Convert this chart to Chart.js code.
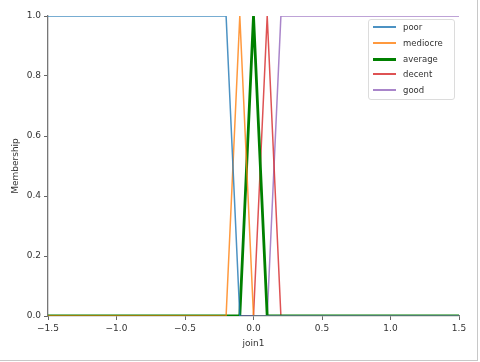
<!DOCTYPE html>
<html>
<head>
<meta charset="utf-8">
<script src="https://cdn.jsdelivr.net/npm/chart.js@4"></script>
<style>
  html, body { margin: 0; padding: 0; background: #fff; }
  #wrap { position: relative; width: 480px; height: 362px; }
  #frame { position: absolute; left: 0; top: 0; width: 477px; height: 360px;
           border-right: 1px solid #c8c8c8; border-bottom: 1px solid #c8c8c8; pointer-events: none; }
  #legend { position: absolute; left: 368px; top: 19px; width: 85px; height: 79px;
            border: 1px solid #dcdcdc; border-radius: 3px; background: rgba(255,255,255,0.8);
            font-family: "DejaVu Sans", sans-serif; font-size: 8.5px; color: #333; }
  .row { position: absolute; left: 0; height: 12px; line-height: 12px; }
  .row i { position: absolute; left: 4px; width: 23px; display: block; }
  .row span { position: absolute; left: 34px; top: 0; white-space: nowrap; }
</style>
</head>
<body>
<div id="wrap">
  <canvas id="chart" width="480" height="362"></canvas>
  <div id="frame"></div>
  <div id="legend"></div>
</div>
<script>
// ===== DATA =====
const names = ["poor", "mediocre", "average", "decent", "good"];
const colors = ["rgba(31,119,180,0.8)", "rgba(255,127,14,0.8)", "#008000", "rgba(214,39,40,0.8)", "rgba(148,103,189,0.8)"];
const widths = [1.5, 1.5, 2.8, 1.5, 1.5];

const poorX = [-1.5, -0.2, -0.1, 1.5];
const poorY = [1, 1, 0, 0];
const mediocreX = [-1.5, -0.2, -0.1, 0, 1.5];
const mediocreY = [0, 0, 1, 0, 0];
const averageX = [-1.5, -0.1, 0, 0.1, 1.5];
const averageY = [0, 0, 1, 0, 0];
const decentX = [-1.5, 0, 0.1, 0.2, 1.5];
const decentY = [0, 0, 1, 0, 0];
const goodX = [-1.5, 0.1, 0.2, 1.5];
const goodY = [0, 0, 1, 1];

const xTicks = [-1.5, -1.0, -0.5, 0.0, 0.5, 1.0, 1.5];
const yTicks = [0.0, 0.2, 0.4, 0.6, 0.8, 1.0];

const seriesX = [poorX, mediocreX, averageX, decentX, goodX];
const seriesY = [poorY, mediocreY, averageY, decentY, goodY];

function fmt(v) {
  const s = Math.abs(v).toFixed(1);
  return v < -1e-9 ? "\u2212" + s : s;
}

const tickFont = { family: "'DejaVu Sans', sans-serif", size: 9 };

const datasets = names.map((n, i) => ({
  label: n,
  data: seriesX[i].map((x, k) => ({ x: x, y: seriesY[i][k] })),
  borderColor: colors[i],
  borderWidth: widths[i],
  pointRadius: 0,
  tension: 0,
  fill: false,
  borderJoinStyle: "miter"
}));

new Chart(document.getElementById("chart"), {
  type: "line",
  data: { datasets },
  options: {
    responsive: false,
    animation: false,
    layout: { padding: { left: 0, top: 16, right: 21, bottom: 0 } },
    plugins: { legend: { display: false }, tooltip: { enabled: false } },
    scales: {
      x: {
        type: "linear",
        min: -1.5, max: 1.5,
        afterBuildTicks: s => { s.ticks = xTicks.map(v => ({ value: v })); },
        afterFit: s => { s.height = 46; },
        ticks: { color: "#333", font: tickFont, padding: 3, maxRotation: 0, callback: v => fmt(v) },
        grid: { drawOnChartArea: false, tickLength: 4, color: "#666", tickWidth: 1 },
        border: { display: true, color: "#777", width: 1.3 },
        title: { display: true, text: "join1", color: "#333", font: tickFont, padding: { top: 0, bottom: 13 } }
      },
      y: {
        min: 0, max: 1,
        afterBuildTicks: s => { s.ticks = yTicks.map(v => ({ value: v })); },
        afterFit: s => { s.width = 48; },
        ticks: { color: "#333", font: tickFont, padding: 3, callback: v => fmt(v) },
        grid: { drawOnChartArea: false, tickLength: 4, color: "#666", tickWidth: 1 },
        border: { display: true, color: "#777", width: 1.3 },
        title: { display: true, text: "Membership", color: "#333", font: tickFont, padding: { top: 10, bottom: 0 } }
      }
    }
  }
});

// ===== LEGEND =====
const legend = document.getElementById("legend");
const rowTops = [1, 17, 33, 48, 64];
names.forEach((n, i) => {
  const row = document.createElement("div");
  row.className = "row";
  row.style.top = rowTops[i] + "px";
  const t = widths[i] > 2 ? 3 : 2;
  row.innerHTML = `<i style="top:${6 - t / 2}px;border-top:${t}px solid ${colors[i]}"></i><span>${n}</span>`;
  legend.appendChild(row);
});
</script>
</body>
</html>
